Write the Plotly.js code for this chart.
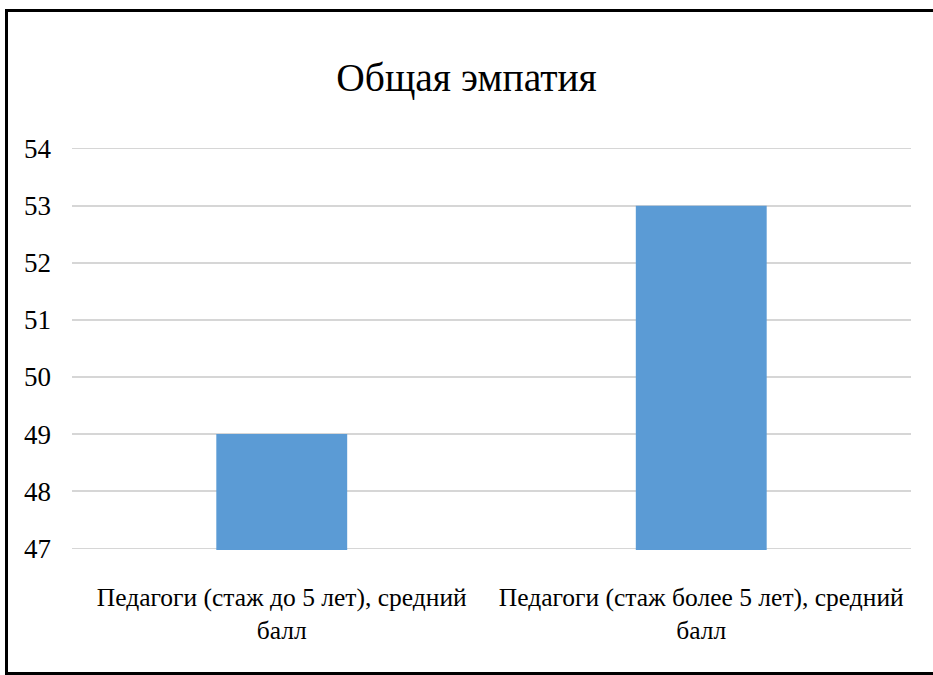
<!DOCTYPE html>
<html>
<head>
<meta charset="utf-8">
<script src="https://cdn.plot.ly/plotly-3.0.1.min.js"></script>
<style>
  html, body { margin: 0; padding: 0; background: #fff; }
  #wrap { position: relative; width: 933px; height: 675px; overflow: hidden; }
  #chart { width: 933px; height: 675px; }
  #frame { position: absolute; left: 5px; top: 9px; width: 960px; height: 666px;
           border-left: 3px solid #000; border-top: 3px solid #000; border-bottom: 3px solid #000;
           pointer-events: none; box-sizing: border-box; }
</style>
</head>
<body>
<div id="wrap">
  <div id="chart"></div>
  <div id="frame"></div>
</div>
<script>
const chartTitle = "Общая эмпатия";
const categories = [
  "Педагоги (стаж до 5 лет), средний<br>балл",
  "Педагоги (стаж более 5 лет), средний<br>балл"
];
const values = [49, 53];
const yTicks = [47, 48, 49, 50, 51, 52, 53, 54];

const serif = "Liberation Serif";

Plotly.newPlot("chart", [{
  type: "bar",
  x: categories,
  y: values,
  marker: { color: "#5B9BD5" },
  hoverinfo: "skip"
}], {
  width: 933,
  height: 675,
  margin: { l: 72, r: 22, t: 147, b: 125 },
  paper_bgcolor: "#fff",
  plot_bgcolor: "#fff",
  bargap: 0.688,
  showlegend: false,
  font: { family: serif, color: "#000" },
  title: {
    text: chartTitle,
    font: { family: serif, size: 39.5, color: "#000" },
    x: 0.5, xanchor: "center",
    y: 1 - 77 / 675, yref: "container", yanchor: "middle"
  },
  xaxis: {
    type: "category",
    showgrid: false,
    showline: false,
    zeroline: false,
    ticks: "",
    tickfont: { family: serif, size: 25.5, color: "#000" },
    ticklabelstandoff: 29
  },
  yaxis: {
    range: [46.97, 54.03],
    tickvals: yTicks,
    showgrid: true,
    gridcolor: "#D6D6D6",
    gridwidth: 1.5,
    zeroline: false,
    showline: false,
    ticks: "",
    tickfont: { family: serif, size: 27, color: "#000" },
    ticklabelstandoff: 20
  }
}, { displayModeBar: false, staticPlot: true });
</script>
</body>
</html>
